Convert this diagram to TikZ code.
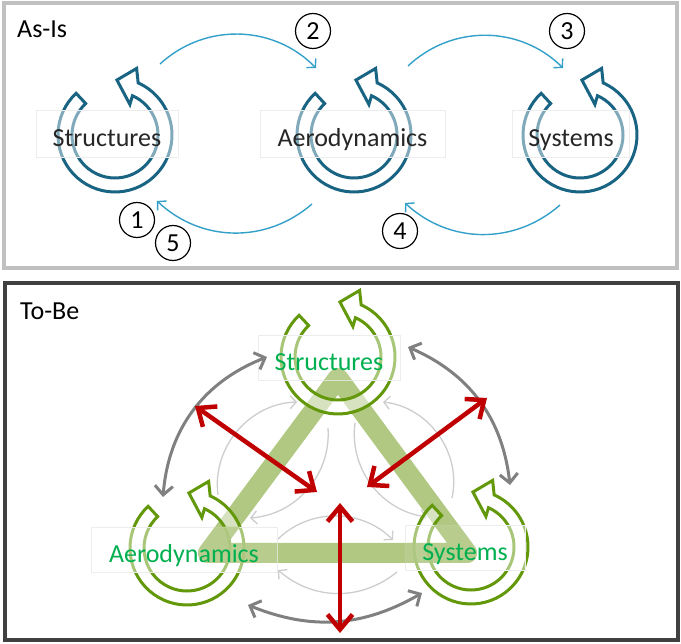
\documentclass[tikz,border=0pt]{standalone}
\usepackage{fontspec}
\setmainfont{Carlito}
\usetikzlibrary{arrows.meta}

\definecolor{ringteal}{RGB}{25,100,130}
\definecolor{flowblue}{RGB}{50,160,200}
\definecolor{ringgreen}{RGB}{98,152,10}
\definecolor{labelgreen}{RGB}{0,176,80}
\definecolor{barcol}{RGB}{176,200,130}
\definecolor{thickgray}{RGB}{128,128,128}
\definecolor{thingray}{RGB}{205,205,205}
\definecolor{accentred}{RGB}{192,0,0}
\definecolor{topframe}{RGB}{192,192,192}
\definecolor{botframe}{RGB}{64,64,64}

\newcommand\diagfont{\fontsize{26}{30}\selectfont}

\tikzset{
  % circular arrow icon: open ring with an arrowhead at the upper right
  pics/cyc/.style={code={
    \draw[#1] (133:57) arc[start angle=133,end angle=426,radius=57]
      -- (72:70) -- (88:55) -- (64:34) -- (426:43)
      arc[start angle=426,end angle=133,radius=43] -- cycle;
  }},
  tealring/.style={draw=ringteal, fill=white, line width=3pt, line join=miter},
  greenring/.style={draw=ringgreen, fill=white, fill opacity=0.5, line width=3pt, line join=miter},
  tbox/.style={draw=black!7, line width=0.6pt, fill=white, fill opacity=0.45,
    text opacity=1, minimum height=47pt, text height=27pt, text depth=0pt,
    inner xsep=0pt, inner ysep=0pt, font=\diagfont},
  gbox/.style={draw=black!7, line width=0.6pt, fill=white, fill opacity=0.45,
    minimum height=45pt, inner sep=0pt},
  glabel/.style={text=labelgreen, font=\diagfont, text height=26pt, text depth=0pt,
    inner sep=0pt},
  backbone/.style={barcol, line width=20pt, line join=round, line cap=round},
  num/.style={circle, draw=black, line width=1.2pt, minimum size=35pt,
    inner sep=0pt, font=\diagfont},
  flow/.style={draw=flowblue, line width=1.4pt,
    -{Straight Barb[length=6pt,width=13pt]}},
  thinlink/.style={draw=thingray, line width=1.3pt,
    -{Straight Barb[length=6pt,width=13pt]}},
  thicklink/.style={draw=thickgray, line width=3pt,
    {Straight Barb[length=9pt,width=18pt]}-{Straight Barb[length=9pt,width=18pt]}},
  redlink/.style={draw=accentred, line width=4.5pt,
    {Straight Barb[length=15pt,width=25pt]}-{Straight Barb[length=15pt,width=25pt]}},
}

\begin{document}
\begin{tikzpicture}[x=1pt,y=1pt]
\useasboundingbox (0,0) rectangle (681,-644);

% ---------------- As-Is panel ----------------
\draw[topframe, line width=4pt] (3.5,-3.5) rectangle (676.5,-268.5);
\node[anchor=base west, font=\diagfont, inner sep=0pt] (asis) at (17,-38) {As-Is};

\pic at (115,-135) {cyc={tealring}};
\pic at (354,-135) {cyc={tealring}};
\pic at (580,-135) {cyc={tealring}};

\node[tbox, minimum width=142pt, text=black!85] (st) at (107,-133.5) {Structures};
\node[tbox, minimum width=185pt, text=black!85] (ae) at (352.5,-133.5) {Aerodynamics};
\node[tbox, minimum width=117pt, text=black!85] (sy) at (571,-133.5) {Systems};

\coordinate (f2a) at (160,-64);  \coordinate (f2b) at (316,-68);
\coordinate (f3a) at (408,-66);  \coordinate (f3b) at (563,-68);
\coordinate (f1a) at (312,-204); \coordinate (f1b) at (157,-201);
\coordinate (f4a) at (560,-205); \coordinate (f4b) at (405,-203);
\draw[flow] (f2a) to[bend left=44] (f2b);
\draw[flow] (f3a) to[bend left=44] (f3b);
\draw[flow] (f1a) to[bend left=42] (f1b);
\draw[flow] (f4a) to[bend left=42] (f4b);

\node[num] (n1) at (137,-220) {1};
\node[num] (n2) at (313,-31) {2};
\node[num] (n3) at (567,-31) {3};
\node[num] (n4) at (400,-231) {4};
\node[num] (n5) at (173,-243) {5};

% ---------------- To-Be panel ----------------
\draw[botframe, line width=4pt] (5,-283) rectangle (678,-640);
\node[anchor=base west, font=\diagfont, inner sep=0pt] (tobe) at (20,-320) {To-Be};

% shared backbone triangle
\draw[backbone] (338,-378) -- (208,-553) -- (467,-553) -- cycle;

% faint pairwise exchanges
\coordinate (la) at (218,-495); \coordinate (lb) at (297,-402);
\coordinate (lc) at (328,-428); \coordinate (ld) at (250,-518);
\coordinate (ra) at (452,-498); \coordinate (rb) at (383,-402);
\coordinate (rc) at (355,-423); \coordinate (rd) at (427,-517);
\coordinate (ba) at (277,-540); \coordinate (bb) at (393,-540);
\coordinate (bc) at (397,-572); \coordinate (bd) at (278,-570);
\draw[thinlink] (la) to[bend left=48] (lb);
\draw[thinlink] (lc) to[bend left=45] (ld);
\draw[thinlink] (ra) to[bend right=48] (rb);
\draw[thinlink] (rc) to[bend right=45] (rd);
\draw[thinlink] (ba) to[bend left=45] (bb);
\draw[thinlink] (bc) to[bend left=40] (bd);

\pic at (338,-357) {cyc={greenring}};
\pic at (187,-548) {cyc={greenring}};
\pic at (471,-547) {cyc={greenring}};

% label panels, then the backbone shown again inside them
\node[gbox, minimum width=142pt] (st2box) at (329,-357.5) {};
\node[gbox, minimum width=186pt] (ae2box) at (184,-549.5) {};
\node[gbox, minimum width=120pt] (sy2box) at (465,-547.5) {};
\begin{scope}
  \clip (st2box.south west) rectangle (st2box.north east)
        (ae2box.south west) rectangle (ae2box.north east)
        (sy2box.south west) rectangle (sy2box.north east);
  \draw[backbone, draw opacity=0.8] (338,-378) -- (208,-553) -- (467,-553) -- cycle;
\end{scope}
\node[glabel] (st2) at (st2box) {Structures};
\node[glabel] (ae2) at (ae2box) {Aerodynamics};
\node[glabel] (sy2) at (sy2box) {Systems};

% outer two-way links
\coordinate (ol1) at (163,-497); \coordinate (ol2) at (267,-357);
\coordinate (or1) at (408,-347); \coordinate (or2) at (510,-485);
\coordinate (ob1) at (248,-605); \coordinate (ob2) at (422,-593);
\draw[thicklink] (ol1) to[bend left=32] (ol2);
\draw[thicklink] (or1) to[bend left=30] (or2);
\draw[thicklink] (ob1) to[bend right=26] (ob2);

% direct two-way links to the centre
\coordinate (rl1) at (195,-406); \coordinate (rl2) at (317,-492);
\coordinate (rr1) at (487,-398); \coordinate (rr2) at (367,-487);
\coordinate (rv1) at (340,-503); \coordinate (rv2) at (340,-633);
\draw[redlink] (rl1) -- (rl2);
\draw[redlink] (rr1) -- (rr2);
\draw[redlink] (rv1) -- (rv2);
\end{tikzpicture}
\end{document}
